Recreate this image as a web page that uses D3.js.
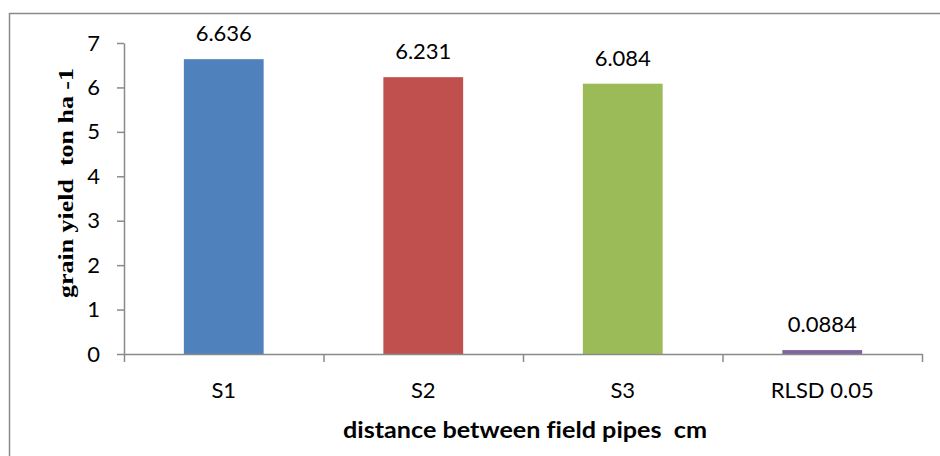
<!DOCTYPE html>
<html>
<head>
<meta charset="utf-8">
<script src="https://cdn.jsdelivr.net/npm/d3@7"></script>
<style>
  body { margin: 0; background: #fff; }
  svg { display: block; }
</style>
</head>
<body>
<script>
// chart data
var categories = ["S1", "S2", "S3", "RLSD 0.05"];
var yields = [6.636, 6.231, 6.084, 0.0884];
var valueLabels = ["6.636", "6.231", "6.084", "0.0884"];
var barColors = ["#4F81BD", "#C0504D", "#9BBB59", "#8064A2"];
var yTicks = [0, 1, 2, 3, 4, 5, 6, 7];

var w = 940, h = 456;
var plotLeft = 124, plotRight = 922, plotTop = 43, plotBottom = 354;

var svg = d3.select("body").append("svg")
  .attr("width", w)
  .attr("height", h);

// outer frame (only left and top edges are visible)
svg.append("path")
  .attr("d", "M9.5," + h + "V13.5H" + w)
  .attr("fill", "none")
  .attr("stroke", "#8a8a8a")
  .attr("stroke-width", 1.5);

var x = d3.scaleBand()
  .domain(categories)
  .range([plotLeft, plotRight])
  .paddingInner(0.6)
  .paddingOuter(0.3);

// boundaries between categories, for the x tick marks
var xEdge = d3.scaleLinear().domain([0, categories.length]).range([plotLeft, plotRight]);

var y = d3.scaleLinear().domain([0, 7]).range([plotBottom, plotTop]);

// bars
svg.selectAll("rect.bar")
  .data(yields)
  .enter()
  .append("rect")
  .attr("class", "bar")
  .attr("x", function(d, i) { return x(categories[i]); })
  .attr("y", function(d) { return y(d); })
  .attr("width", x.bandwidth())
  .attr("height", function(d) { return plotBottom - y(d); })
  .attr("fill", function(d, i) { return barColors[i]; });

// y axis
svg.append("g")
  .attr("transform", "translate(" + plotLeft + ",0)")
  .call(d3.axisLeft(y).tickValues(yTicks).tickFormat(d3.format("d")).tickSize(7).tickSizeOuter(0).tickPadding(17));

// x axis tick marks at category edges
svg.append("g")
  .attr("transform", "translate(0," + plotBottom + ")")
  .call(d3.axisBottom(xEdge).tickValues(d3.range(categories.length + 1)).tickFormat("").tickSize(8).tickSizeOuter(0));

// x axis labels
var xAxis = svg.append("g")
  .attr("transform", "translate(0," + plotBottom + ")")
  .call(d3.axisBottom(x).tickSize(0).tickSizeOuter(0).tickPadding(28));
xAxis.select(".domain").remove();

svg.selectAll(".domain, .tick line")
  .attr("stroke", "#8a8a8a")
  .attr("stroke-width", 1.5);

svg.selectAll(".tick text")
  .attr("font-family", "Lato, 'Open Sans', sans-serif")
  .attr("font-size", "22px")
  .attr("fill", "#000");

// value labels
svg.selectAll("text.val")
  .data(yields)
  .enter()
  .append("text")
  .attr("class", "val")
  .attr("x", function(d, i) { return x(categories[i]) + x.bandwidth() / 2; })
  .attr("y", function(d) { return y(d) - 18; })
  .attr("text-anchor", "middle")
  .attr("font-family", "Lato, 'Open Sans', sans-serif")
  .attr("font-size", "22px")
  .attr("fill", "#000")
  .text(function(d, i) { return valueLabels[i]; });

// axis titles
svg.append("text")
  .attr("transform", "translate(73,183) rotate(-90)")
  .attr("text-anchor", "middle")
  .attr("font-family", "'Liberation Serif', 'Times New Roman', serif")
  .attr("font-weight", "bold")
  .attr("font-size", "20px")
  .attr("textLength", 230)
  .attr("lengthAdjust", "spacingAndGlyphs")
  .style("white-space", "pre")
  .text("grain yield  ton ha -1");

svg.append("text")
  .attr("x", 525)
  .attr("y", 438)
  .attr("text-anchor", "middle")
  .attr("font-family", "Lato, 'Open Sans', sans-serif")
  .attr("font-weight", "bold")
  .attr("font-size", "22px")
  .attr("textLength", 364)
  .attr("lengthAdjust", "spacingAndGlyphs")
  .style("white-space", "pre")
  .style("font-variant-ligatures", "none")
  .text("distance between field pipes  cm");
</script>
</body>
</html>
